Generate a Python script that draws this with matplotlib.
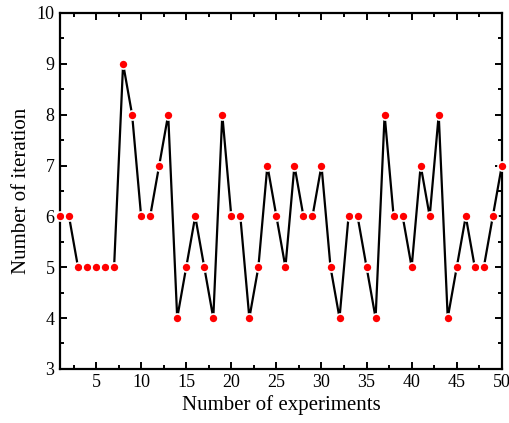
import matplotlib.pyplot as plt
from matplotlib.ticker import MultipleLocator

plt.rcParams['font.family'] = ['Liberation Serif', 'DejaVu Serif']

# experiment number and iterations
experiments = list(range(1, 51))
iterations = [6, 6, 5, 5, 5, 5, 5, 9, 8, 6,
              6, 7, 8, 4, 5, 6, 5, 4, 8, 6,
              6, 4, 5, 7, 6, 5, 7, 6, 6, 7,
              5, 4, 6, 6, 5, 4, 8, 6, 6, 5,
              7, 6, 8, 4, 5, 6, 5, 5, 6, 7]

fig = plt.figure(figsize=(5.1, 4.23), dpi=100)
ax = fig.add_axes([0.1176, 0.128, 0.8664, 0.8413])

ax.plot(experiments, iterations, '-', color='black', lw=1.6, zorder=2)
ax.plot(experiments, iterations, 'o', color='red', ms=6.5, mec='white', mew=1.2,
        zorder=3, clip_on=False)

ax.set_xlim(1, 50)
ax.set_ylim(3, 10)
ax.xaxis.set_major_locator(MultipleLocator(5))
ax.xaxis.set_minor_locator(MultipleLocator(2.5))
ax.yaxis.set_major_locator(MultipleLocator(1))
ax.yaxis.set_minor_locator(MultipleLocator(0.5))
ax.tick_params(which='both', direction='in', top=True, right=True, width=1.4,
               labelsize=13, pad=4)
ax.tick_params(which='major', length=5)
ax.tick_params(which='minor', length=3)
for s in ax.spines.values():
    s.set_linewidth(1.6)

ax.set_xlabel('Number of experiments', fontsize=15, labelpad=3)
ax.set_ylabel('Number of iteration', fontsize=15, labelpad=4)

fig.savefig('out.png', dpi=100)
